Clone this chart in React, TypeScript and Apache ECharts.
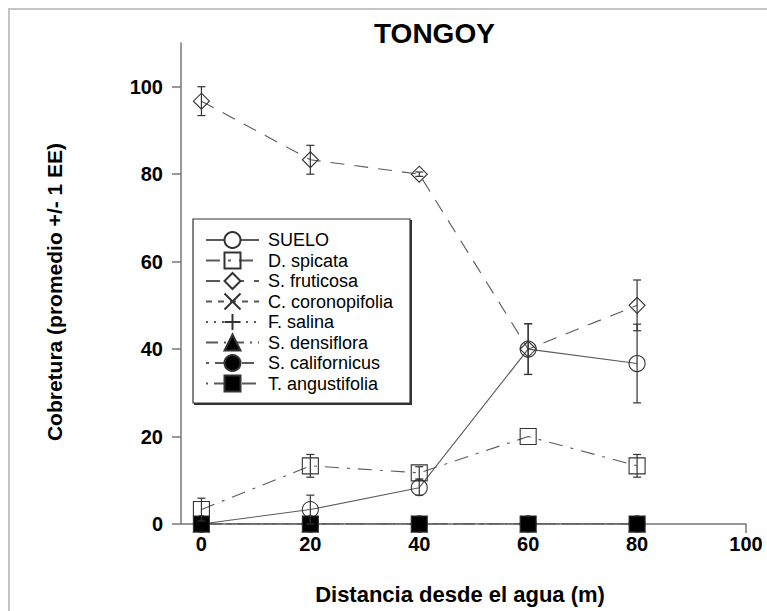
import React, { useEffect, useRef } from "react";
import * as echarts from "echarts";

const FONT = '"Liberation Sans", Arial, Helvetica, sans-serif';

const distances = [0, 20, 40, 60, 80];
const xTicks = [0, 20, 40, 60, 80, 100];
const yTicks = [0, 20, 40, 60, 80, 100];

const sueloMean = [0, 3.3, 8.3, 40, 36.7];
const sueloErr = [0, 3.3, 1.7, 5.8, 9];
const spicataMean = [3.3, 13.3, 11.7, 20, 13.3];
const spicataErr = [2.6, 2.6, 1.4, 0, 2.6];
const fruticosaMean = [96.7, 83.3, 80, 40, 50];
const fruticosaErr = [3.3, 3.3, 0.5, 5.8, 5.8];
const coronopifoliaMean = [0, 0, 0, 0, 0];
const salinaMean = [0, 0, 0, 0, 0];
const densifloraMean = [0, 0, 0, 0, 0];
const californicusMean = [0, 0, 0, 0, 0];
const angustifoliaMean = [0, 0, 0, 0, 0];

const LINE = "#5a5a5a";
const MARK = "#333";

const pts = (m: number[]) => distances.map((d, i) => [d, m[i]]);
const errPts = (m: number[], e: number[]) =>
  distances.map((d, i) => [d, m[i] - e[i], m[i] + e[i]]);

type Spec = {
  name: string;
  data: number[];
  symbol: string;
  fill: string;
  dash: any;
  legendFill?: string;
};

const specs: Spec[] = [
  { name: "SUELO", data: sueloMean, symbol: "circle", fill: "rgba(0,0,0,0)", dash: "solid", legendFill: "#fff" },
  { name: "D. spicata", data: spicataMean, symbol: "rect", fill: "rgba(0,0,0,0)", dash: [14, 8, 3, 8] },
  { name: "S. fruticosa", data: fruticosaMean, symbol: "diamond", fill: "rgba(0,0,0,0)", dash: [14, 10], legendFill: "#fff" },
  { name: "C. coronopifolia", data: coronopifoliaMean, symbol: "path://M0,0L10,10M10,0L0,10", fill: "rgba(0,0,0,0)", dash: [6, 6] },
  { name: "F. salina", data: salinaMean, symbol: "path://M5,0L5,10M0,5L10,5", fill: "rgba(0,0,0,0)", dash: [2, 6] },
  { name: "S. densiflora", data: densifloraMean, symbol: "triangle", fill: "#000", dash: [12, 6, 2, 6] },
  { name: "S. californicus", data: californicusMean, symbol: "circle", fill: "#000", dash: [3, 6, 12, 6] },
  { name: "T. angustifolia", data: angustifoliaMean, symbol: "rect", fill: "#000", dash: [2, 6, 14, 6] },
];

const errorSeries = (name: string, m: number[], e: number[]) => ({
  type: "custom",
  name: name + " EE",
  z: 5,
  silent: true,
  data: errPts(m, e),
  encode: { x: 0, y: [1, 2] },
  renderItem: (params: any, api: any) => {
    const x = api.value(0);
    const lo = api.value(1);
    const hi = api.value(2);
    if (hi - lo <= 0) return { type: "group", children: [] };
    const a = api.coord([x, lo]);
    const b = api.coord([x, hi]);
    const w = 4;
    const st = { stroke: MARK, lineWidth: 1.2 };
    return {
      type: "group",
      children: [
        { type: "line", shape: { x1: a[0], y1: a[1], x2: b[0], y2: b[1] }, style: st },
        { type: "line", shape: { x1: a[0] - w, y1: a[1], x2: a[0] + w, y2: a[1] }, style: st },
        { type: "line", shape: { x1: b[0] - w, y1: b[1], x2: b[0] + w, y2: b[1] }, style: st },
      ],
    };
  },
});

const axisCommon = {
  type: "value",
  splitLine: { show: false },
  axisLine: { show: true, onZero: false, lineStyle: { color: "#777", width: 1.5 } },
};

const option: any = {
  animation: false,
  backgroundColor: "#fff",
  title: {
    text: "TONGOY",
    left: 366,
    top: 11,
    padding: 0,
    textStyle: { fontSize: 28, fontWeight: "bold", fontFamily: FONT, color: "#000" },
  },
  grid: { left: 173, right: 21, top: 35, bottom: 87, containLabel: false },
  xAxis: {
    ...axisCommon,
    min: -3.75,
    max: 100,
    axisTick: { show: true, customValues: xTicks, length: 9, lineStyle: { color: "#777", width: 1.5 } },
    axisLabel: { customValues: xTicks, fontSize: 20, fontWeight: "bold", color: "#000", margin: 10, fontFamily: FONT },
  },
  yAxis: {
    ...axisCommon,
    min: 0,
    max: 110,
    axisTick: { show: true, customValues: yTicks, length: 9, lineStyle: { color: "#777", width: 1.5 } },
    axisLabel: { customValues: yTicks, fontSize: 20, fontWeight: "bold", color: "#000", margin: 18, fontFamily: FONT },
  },
  legend: {
    orient: "vertical",
    left: 197,
    top: 223,
    padding: 0,
    itemWidth: 53,
    itemHeight: 20,
    itemGap: 2.5,
    selectedMode: false,
    textStyle: { fontSize: 18, fontFamily: FONT, color: "#000", padding: [0, 0, 0, 4] },
    data: specs.map((s) => ({
      name: s.name,
      itemStyle: s.legendFill ? { color: s.legendFill } : undefined,
    })),
  },
  graphic: [
    { type: "rect", z: 0, shape: { x: 0, y: 0, width: 759, height: 2 }, style: { fill: "#c4c4c4" } },
    { type: "rect", z: 0, shape: { x: 0, y: 0, width: 2, height: 603 }, style: { fill: "#c4c4c4" } },
    {
      type: "rect",
      z: 1,
      shape: { x: 185, y: 211, width: 217, height: 184 },
      style: { fill: "#fff", stroke: "#333", lineWidth: 1.2 },
    },
    {
      type: "polyline",
      z: 1,
      shape: { points: [[403, 212], [403, 396], [186, 396]] },
      style: { stroke: "#333", lineWidth: 2, fill: "none" },
    },
    {
      type: "text",
      x: 452,
      y: 586,
      style: {
        text: "Distancia desde el agua (m)",
        fontSize: 22,
        fontWeight: "bold",
        fontFamily: FONT,
        fill: "#000",
        textAlign: "center",
        textVerticalAlign: "middle",
      },
    },
    {
      type: "text",
      x: 46,
      y: 284,
      rotation: Math.PI / 2,
      style: {
        text: "Cobretura (promedio +/- 1 EE)",
        fontSize: 21,
        fontWeight: "bold",
        fontFamily: FONT,
        fill: "#000",
        textAlign: "center",
        textVerticalAlign: "middle",
      },
    },
  ],
  series: [
    ...specs.map((s) => ({
      type: "line",
      name: s.name,
      data: pts(s.data),
      symbol: s.symbol,
      symbolSize: 16,
      showAllSymbol: true,
      z: 3,
      lineStyle: { color: LINE, width: 1.1, type: s.dash },
      itemStyle: { color: s.fill, borderColor: MARK, borderWidth: 1.1 },
      emphasis: { disabled: true },
    })),
    errorSeries("SUELO", sueloMean, sueloErr),
    errorSeries("D. spicata", spicataMean, spicataErr),
    errorSeries("S. fruticosa", fruticosaMean, fruticosaErr),
  ],
};

export default function App() {
  const ref = useRef<HTMLDivElement>(null);
  useEffect(() => {
    const chart = echarts.init(ref.current!, null, { renderer: "svg" });
    chart.setOption(option);
    return () => chart.dispose();
  }, []);
  return (
    <div
      ref={ref}
      style={{ position: "absolute", left: 8, top: 8, width: 759, height: 603 }}
    />
  );
}
